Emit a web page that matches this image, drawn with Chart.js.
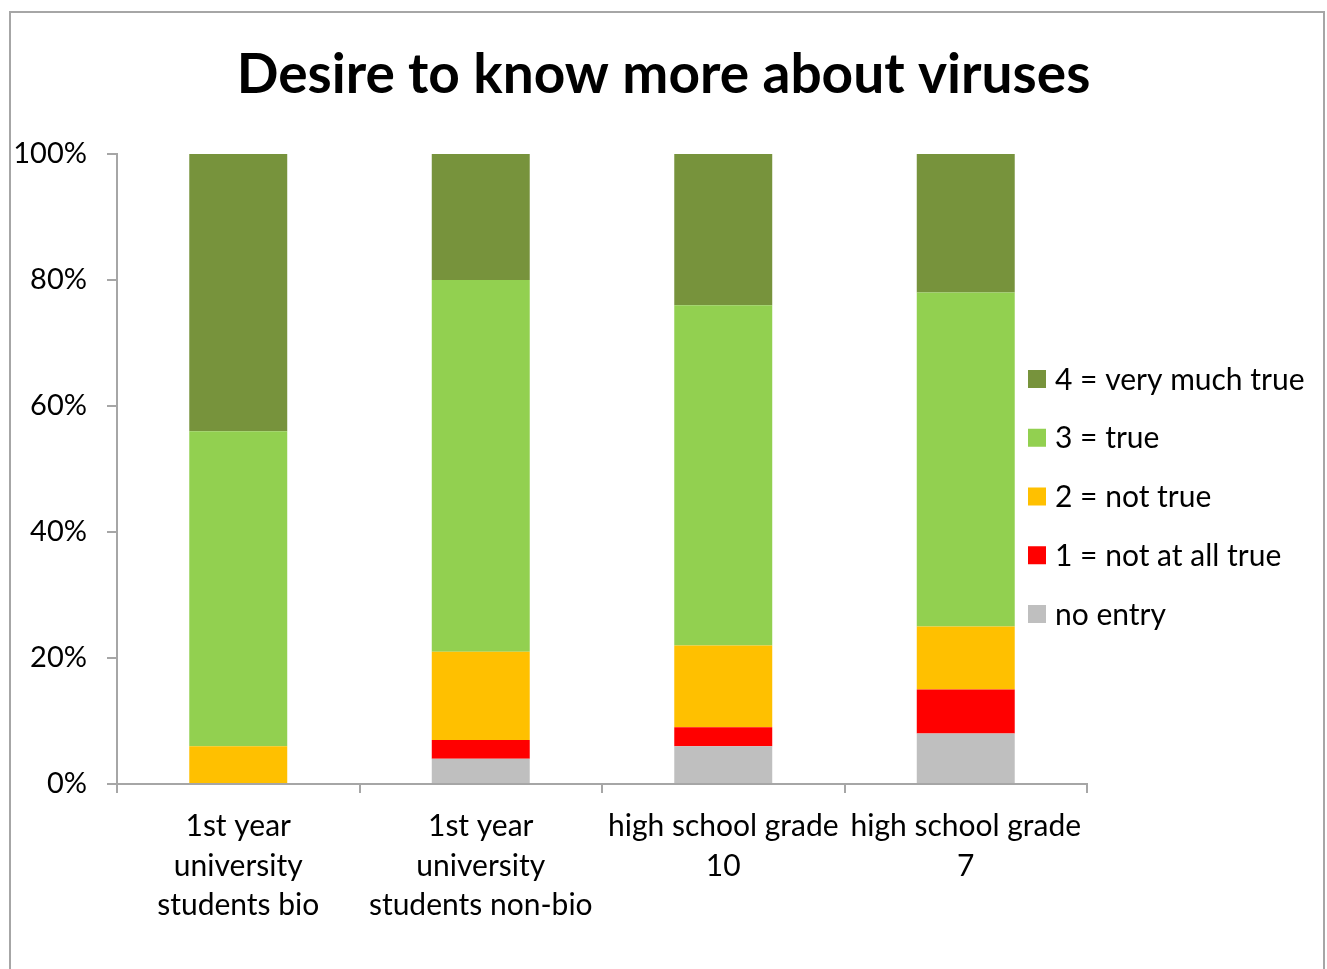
<!DOCTYPE html>
<html>
<head>
<meta charset="utf-8">
<script src="https://cdn.jsdelivr.net/npm/chart.js@4/dist/chart.umd.min.js"></script>
<style>
  html, body { margin: 0; padding: 0; background: #fff; }
  #wrap { position: relative; width: 1327px; height: 969px; }
  #frame { position: absolute; left: 9px; top: 11px; width: 1316px; height: 970px; border: 2px solid #A6A6A6; box-sizing: border-box; }
  canvas { position: absolute; left: 0; top: 0; }
</style>
</head>
<body>
<div id="wrap">
  <div id="frame"></div>
  <canvas id="c" width="1327" height="969"></canvas>
</div>
<script>
const categories = [
  ["1st year", "university", "students bio"],
  ["1st year", "university", "students non-bio"],
  ["high school grade", "10"],
  ["high school grade", "7"]
];
const seriesNames = ["no entry", "1 = not at all true", "2 = not true", "3 = true", "4 = very much true"];
const noEntry      = [0, 4, 6, 8];
const notAtAllTrue = [0, 3, 3, 7];
const notTrue      = [6, 14, 13, 10];
const trueVals     = [50, 59, 54, 53];
const veryMuchTrue = [44, 20, 24, 22];
const seriesColors = ["#BFBFBF", "#FF0000", "#FFC000", "#92D050", "#77933C"];
const yTicks = [0, 20, 40, 60, 80, 100];

const FONT = "Lato, 'Noto Sans', sans-serif";
const seriesValues = [noEntry, notAtAllTrue, notTrue, trueVals, veryMuchTrue];

const customLegend = {
  id: 'customLegend',
  afterDraw(chart) {
    const ctx = chart.ctx;
    const ds = chart.data.datasets.slice().reverse();
    const x0 = 1028, yTop = 379, step = 58.75, box = 18;
    ctx.save();
    ctx.font = "30px " + FONT;
    ctx.textBaseline = 'middle';
    ctx.textAlign = 'left';
    ds.forEach((d, i) => {
      const cy = yTop + i * step;
      ctx.fillStyle = d.backgroundColor;
      ctx.fillRect(x0, cy - box / 2, box, box);
      ctx.fillStyle = '#000';
      ctx.fillText(d.label, x0 + box + 9, cy + 1);
    });
    ctx.restore();
  }
};

new Chart(document.getElementById('c'), {
  type: 'bar',
  data: {
    labels: categories,
    datasets: seriesNames.map((n, i) => ({
      label: n,
      data: seriesValues[i],
      backgroundColor: seriesColors[i],
      borderWidth: 0,
      barPercentage: 0.404,
      categoryPercentage: 1.0
    }))
  },
  options: {
    responsive: false,
    animation: false,
    devicePixelRatio: 1,
    layout: { padding: 0 },
    plugins: {
      legend: { display: false },
      tooltip: { enabled: false },
      title: {
        display: true,
        text: "Desire to know more about viruses",
        color: '#000',
        font: { family: FONT, size: 55, weight: 'bold', lineHeight: 1.2 },
        padding: { top: 42, bottom: 46 },
        align: 'center'
      }
    },
    scales: {
      x: {
        stacked: true,
        grid: { display: true, drawOnChartArea: false, drawTicks: true, tickLength: 9, color: '#A6A6A6', lineWidth: 2, offset: true },
        border: { display: true, color: '#A6A6A6', width: 2 },
        ticks: { color: '#000', font: { family: FONT, size: 30, lineHeight: 1.317 }, padding: 14, maxRotation: 0, autoSkip: false },
        afterFit(scale) { scale.height = 185; }
      },
      y: {
        stacked: true,
        min: 0, max: 100,
        afterBuildTicks(scale) { scale.ticks = yTicks.map(v => ({ value: v })); },
        grid: { display: true, drawOnChartArea: false, drawTicks: true, tickLength: 10, color: '#A6A6A6', lineWidth: 2 },
        border: { display: true, color: '#A6A6A6', width: 2 },
        ticks: { color: '#000', font: { family: FONT, size: 29 }, padding: 20, callback: v => v + '%' },
        afterFit(scale) { scale.width = 117; }
      },
      yRightSpace: {
        position: 'right',
        display: true,
        min: 0, max: 100,
        grid: { display: false, drawTicks: false },
        border: { display: false },
        ticks: { display: false },
        afterFit(scale) { scale.width = 240; }
      }
    }
  },
  plugins: [customLegend]
});
</script>
</body>
</html>
